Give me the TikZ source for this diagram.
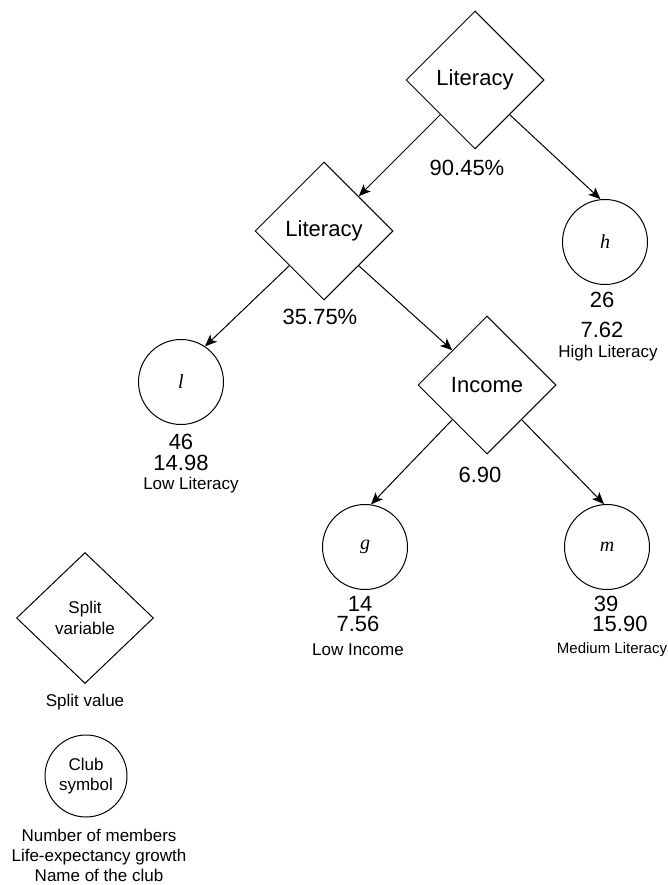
\documentclass[tikz,border=0pt]{standalone}
\usepackage{fontspec}
\setmainfont{Liberation Sans}
\newfontfamily\clubfont{Liberation Serif}
\usepackage{tikz}
\usetikzlibrary{arrows.meta,positioning,shapes.geometric}
\tikzset{
  splitdia/.style={draw,diamond,aspect=1,line width=1pt,inner sep=0pt,
                   minimum width=138pt,minimum height=138pt,
                   align=center,font=\fontsize{22}{26}\selectfont},
  clubcirc/.style={draw,circle,line width=1pt,inner sep=0pt,minimum size=85pt,
                   font=\clubfont\itshape\fontsize{20}{24}\selectfont},
  legenddia/.style={splitdia,minimum width=137pt,minimum height=131pt,
                    font=\fontsize{17}{21}\selectfont},
  legendcirc/.style={clubcirc,minimum size=82pt,align=center,
                     font=\fontsize{17}{20}\selectfont},
  numlabel/.style={inner sep=0pt,font=\fontsize{22}{26}\selectfont},
  namelabel/.style={inner sep=0pt,align=center,font=\fontsize{17}{20}\selectfont},
  splitarr/.style={-{Stealth[length=12pt,width=10pt,inset=3pt]},line width=1pt}
}
\begin{document}
\begin{tikzpicture}[x=1pt,y=-1pt]
  \useasboundingbox (0,0) rectangle (668,885);
  % split nodes
  \node[splitdia] (lit1) at (475,80) {Literacy};
  \node[splitdia] (lit2) at (324,231) {Literacy};
  \node[splitdia] (inc) at (487,385) {Income};
  \node[numlabel] (v1) at (467,168) {90.45\%};
  \node[numlabel] (v2) at (320,317) {35.75\%};
  \node[numlabel] (v3) at (480,475) {6.90};
  % clubs
  \node[clubcirc] (h) at (605,242) {h};
  \node[clubcirc] (l) at (181,382) {l};
  \node[clubcirc] (g) at (365,547) {g};
  \node[clubcirc] (m) at (607,547) {m};
  \node[numlabel] (hn) at (602,300) {26};
  \node[numlabel] (hv) at (602,330) {7.62};
  \node[namelabel] (hs) at (608,353) {High Literacy};
  \node[numlabel] (ln) at (181,442) {46};
  \node[numlabel] (lv) at (181,463) {14.98};
  \node[namelabel] (ls) at (191,485) {Low Literacy};
  \node[numlabel] (gn) at (360,604) {14};
  \node[numlabel] (gv) at (358,624) {7.56};
  \node[namelabel] (gs) at (358,650) {Low Income};
  \node[numlabel] (mn) at (606,604) {39};
  \node[numlabel] (mv) at (620,624) {15.90};
  \node[namelabel,font=\fontsize{15}{18}\selectfont] (ms) at (612,650) {Medium Literacy};
  % edges
  \draw[splitarr] (lit1.south west) -- (lit2.north east);
  \draw[splitarr] (lit1.south east) -- (h.96);
  \draw[splitarr] (lit2.south west) -- (l.56);
  \draw[splitarr] (lit2.south east) -- (inc.north west);
  \draw[splitarr] (inc.south west) -- (g.82);
  \draw[splitarr] (inc.south east) -- (m.94);
  % legend
  \node[legenddia] (keydia) at (85,618) {Split\\variable};
  \node[namelabel] (keyval) at (85,702) {Split value};
  \node[legendcirc] (keycirc) at (86,776) {Club\\symbol};
  \node[namelabel] (keytxt) at (99,855) {Number of members\\Life-expectancy growth\\Name of the club};
\end{tikzpicture}
\end{document}
